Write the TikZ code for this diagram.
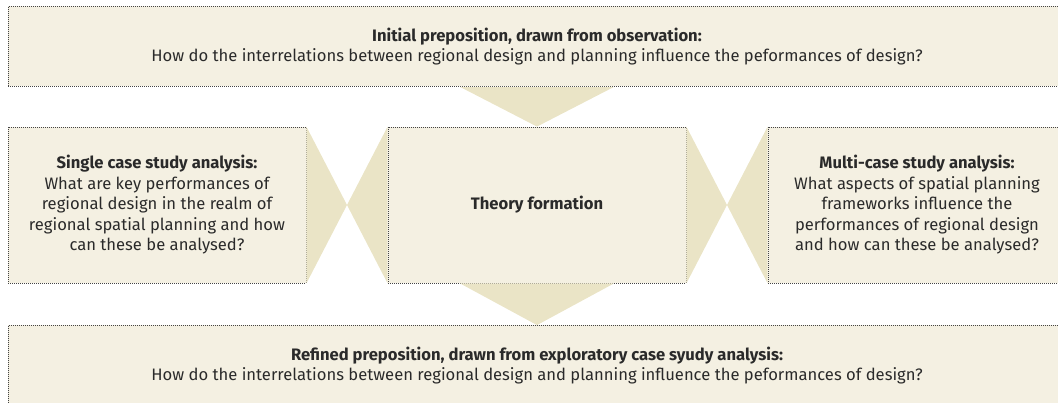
\documentclass[tikz,border=0pt]{standalone}
\usepackage{fontspec}
\setmainfont{Fira Sans}
\usepackage{tikz}
\usetikzlibrary{calc,positioning}
\usepackage{xcolor}

\definecolor{boxfill}{HTML}{F4F0E2}
\definecolor{wedgefill}{HTML}{EAE4C6}
\definecolor{boxline}{HTML}{444444}
\definecolor{boxtext}{HTML}{2A2A2A}

\tikzset{
    stagebox/.style={draw=boxline, fill=boxfill, line width=0.8pt, dash pattern=on 1pt off 1pt,
        inner sep=0pt, align=center, text=boxtext,
        font=\fontsize{16.6}{20.5}\selectfont},
    wedge/.style={fill=wedgefill, draw=none}
}

\begin{document}
\begin{tikzpicture}[x=1pt, y=-1pt]
    \useasboundingbox (0,0) rectangle (1058,403);
    \clip (0,0) rectangle (1058,403);
    % boxes
    \node [stagebox, minimum width=1058pt, minimum height=80pt] (initial) at (537,46.5)
        {\textbf{Initial preposition, drawn from observation:}\\How do the interrelations between regional design and planning influence the peformances of design?};
    \node [stagebox, minimum width=298pt, minimum height=156pt] (theory) at (537,205) {\textbf{Theory formation}};
    \node [stagebox, minimum width=298pt, minimum height=156pt] (single) at (157,205)
        {\textbf{Single case study analysis:}\\What are key performances of\\regional design in the realm of\\regional spatial planning and how\\can these be analysed?};
    \node [stagebox, minimum width=298pt, minimum height=156pt] (multi) at (917,205)
        {\textbf{Multi-case study analysis:}\\What aspects of spatial planning\\frameworks influence the\\performances of regional design\\and how can these be analysed?};
    \node [stagebox, minimum width=1058pt, minimum height=80pt] (refined) at (537,365.5)
        {\textbf{Refined preposition, drawn from exploratory case syudy analysis:}\\How do the interrelations between regional design and planning influence the peformances of design?};
    % wedges between the boxes
    \coordinate (leftmid) at ($(single.east)!0.5!(theory.west)$);
    \coordinate (rightmid) at ($(theory.east)!0.5!(multi.west)$);
    \fill [wedge] ($(initial.south)+(-77,0)$) -- ($(initial.south)+(77,0)$) -- (theory.north) -- cycle;
    \fill [wedge] ($(theory.south)+(-77,0)$) -- ($(theory.south)+(77,0)$) -- (refined.north) -- cycle;
    \fill [wedge] (single.north east) -- (leftmid) -- (single.south east) -- cycle;
    \fill [wedge] (theory.north west) -- (leftmid) -- (theory.south west) -- cycle;
    \fill [wedge] (theory.north east) -- (rightmid) -- (theory.south east) -- cycle;
    \fill [wedge] (multi.north west) -- (rightmid) -- (multi.south west) -- cycle;
\end{tikzpicture}
\end{document}
